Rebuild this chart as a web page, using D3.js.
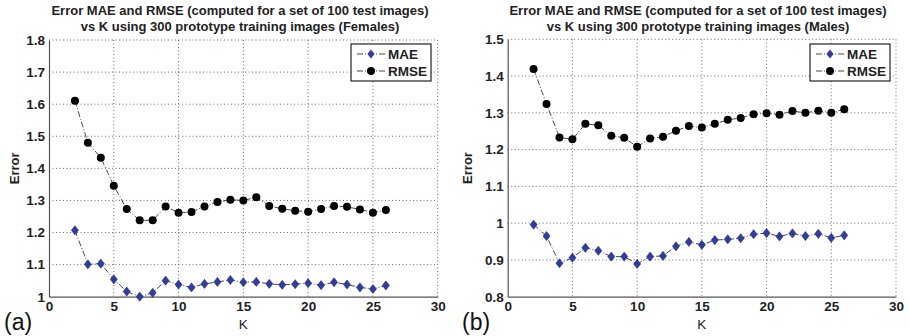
<!DOCTYPE html>
<html><head><meta charset="utf-8">
<script src="https://cdn.jsdelivr.net/npm/d3@7"></script>
<style>body{margin:0;background:#fff}svg{display:block}text{font-family:"Liberation Sans",Arial,sans-serif}</style>
</head><body>
<svg id="c" width="909" height="336"></svg>
<script>
const kValues = [2,3,4,5,6,7,8,9,10,11,12,13,14,15,16,17,18,19,20,21,22,23,24,25,26];
const femaleMAE = [1.207,1.101,1.103,1.054,1.016,1.000,1.012,1.050,1.038,1.029,1.040,1.046,1.052,1.045,1.046,1.040,1.037,1.039,1.042,1.036,1.045,1.038,1.029,1.024,1.035];
const femaleRMSE = [1.611,1.480,1.433,1.346,1.273,1.238,1.238,1.281,1.262,1.264,1.281,1.295,1.302,1.300,1.310,1.283,1.274,1.268,1.265,1.273,1.283,1.280,1.272,1.262,1.270];
const maleMAE = [0.996,0.965,0.891,0.906,0.933,0.925,0.909,0.909,0.889,0.909,0.911,0.937,0.949,0.941,0.954,0.956,0.959,0.970,0.973,0.964,0.972,0.965,0.971,0.960,0.967];
const maleRMSE = [1.419,1.324,1.233,1.228,1.270,1.266,1.238,1.232,1.208,1.230,1.235,1.251,1.264,1.260,1.270,1.281,1.286,1.296,1.299,1.295,1.305,1.300,1.306,1.300,1.310];
const xTicks = [0,5,10,15,20,25,30];
const femaleYTicks = [1,1.1,1.2,1.3,1.4,1.5,1.6,1.7,1.8];
const maleYTicks = [0.8,0.9,1,1.1,1.2,1.3,1.4,1.5];
const seriesNames = ["MAE","RMSE"];
const titleLine1 = "Error MAE and RMSE (computed for a set of 100 test images)";
const femaleTitle2 = "vs K using 300 prototype training images (Females)";
const maleTitle2 = "vs K using 300 prototype training images (Males)";

const svg = d3.select("#c");
const diamondPath = "M0,-4.6L3.6,0L0,4.6L-3.6,0Z";

function panel(cfg){
  const g = svg.append("g");
  const x = d3.scaleLinear().domain([0,30]).range([cfg.left, cfg.right]);
  const y = d3.scaleLinear().domain(cfg.yDomain).range([cfg.bottom, cfg.top]);
  const dotted = sel => sel.attr("stroke","#444").attr("stroke-width",0.8).attr("stroke-dasharray","1,2.5");
  g.append("g").selectAll("line").data(xTicks.slice(1,-1)).join("line")
    .attr("x1",d=>x(d)).attr("x2",d=>x(d)).attr("y1",cfg.top).attr("y2",cfg.bottom).call(dotted);
  g.append("g").selectAll("line").data(cfg.yTicks.slice(1,-1)).join("line")
    .attr("y1",d=>y(d)).attr("y2",d=>y(d)).attr("x1",cfg.left).attr("x2",cfg.right).call(dotted);
  g.append("line").attr("x1",cfg.left).attr("x2",cfg.right).attr("y1",cfg.top).attr("y2",cfg.top).call(dotted);
  g.append("line").attr("x1",cfg.right).attr("x2",cfg.right).attr("y1",cfg.top).attr("y2",cfg.bottom).call(dotted);
  const xa = g.append("g").attr("transform",`translate(0,${cfg.bottom})`)
    .call(d3.axisBottom(x).tickValues(xTicks).tickSize(0).tickPadding(5).tickFormat(d3.format("d")));
  const ya = g.append("g").attr("transform",`translate(${cfg.left},0)`)
    .call(d3.axisLeft(y).tickValues(cfg.yTicks).tickSize(0).tickPadding(4).tickFormat(d=>String(+d.toFixed(1))));
  [xa,ya].forEach(a=>{
    a.select(".domain").attr("stroke","#555").attr("stroke-width",1.2);
    a.selectAll("text").attr("font-size",13.5).attr("font-weight","bold").attr("fill","#222");
  });
  xa.selectAll("text").attr("dy","0.71em");
  g.append("text").attr("x",cfg.titleX).attr("y",15).attr("text-anchor","middle")
    .attr("font-size",13).attr("font-weight","bold").attr("fill","#222").text(titleLine1);
  g.append("text").attr("x",cfg.titleX).attr("y",31).attr("text-anchor","middle")
    .attr("font-size",13).attr("font-weight","bold").attr("fill","#222").text(cfg.title2);
  g.append("text").attr("x",(cfg.left+cfg.right)/2).attr("y",329).attr("text-anchor","middle")
    .attr("font-size",13.5).attr("fill","#222").text("K");
  g.append("text").attr("transform",`translate(${cfg.ylabX},${(cfg.top+cfg.bottom)/2}) rotate(-90)`)
    .attr("text-anchor","middle").attr("font-size",13).attr("font-weight","bold").attr("fill","#222").text("Error");
  g.append("text").attr("x",cfg.tagX).attr("y",330).attr("font-size",23).attr("fill","#111").text(cfg.tag);
  const line = d3.line().x((d,i)=>x(kValues[i])).y(d=>y(d));
  [cfg.mae,cfg.rmse].forEach(s=>{
    g.append("path").attr("d",line(s)).attr("fill","none").attr("stroke","#333")
      .attr("stroke-width",0.9).attr("stroke-dasharray","6,2,1,2");
  });
  g.append("g").selectAll("path").data(cfg.mae).join("path")
    .attr("d",diamondPath).attr("transform",(d,i)=>`translate(${x(kValues[i])},${y(d)})`)
    .attr("fill","#2e3d9e").attr("stroke","#1c2570").attr("stroke-width",0.5);
  g.append("g").selectAll("circle").data(cfg.rmse).join("circle")
    .attr("cx",(d,i)=>x(kValues[i])).attr("cy",d=>y(d)).attr("r",4).attr("fill","#000");
  const lg = g.append("g");
  lg.append("rect").attr("x",cfg.legX).attr("y",44).attr("width",80).attr("height",37)
    .attr("fill","#fff").attr("stroke","#222").attr("stroke-width",1.2);
  seriesNames.forEach((n,i)=>{
    const ly = 44 + 10 + i*17;
    lg.append("line").attr("x1",cfg.legX+6).attr("x2",cfg.legX+34).attr("y1",ly).attr("y2",ly)
      .attr("stroke","#333").attr("stroke-width",0.9).attr("stroke-dasharray","6,2,1,2");
    if(i===0){
      lg.append("path").attr("d",diamondPath).attr("transform",`translate(${cfg.legX+20},${ly})`)
        .attr("fill","#2e3d9e");
    } else {
      lg.append("circle").attr("cx",cfg.legX+20).attr("cy",ly).attr("r",4).attr("fill","#000");
    }
    lg.append("text").attr("x",cfg.legX+37).attr("y",ly+5).attr("font-size",13.5).attr("font-weight","bold")
      .attr("fill","#222").text(n);
  });
}

panel({left:49,right:437.7,top:40,bottom:296.7,yDomain:[1,1.8],yTicks:femaleYTicks,
  mae:femaleMAE,rmse:femaleRMSE,titleX:240,title2:femaleTitle2,ylabX:19,tag:"(a)",tagX:4,legX:351});
panel({left:507.7,right:896,top:39.3,bottom:296.7,yDomain:[0.8,1.5],yTicks:maleYTicks,
  mae:maleMAE,rmse:maleRMSE,titleX:698,title2:maleTitle2,ylabX:472,tag:"(b)",tagX:462,legX:810});
</script>
</body></html>
